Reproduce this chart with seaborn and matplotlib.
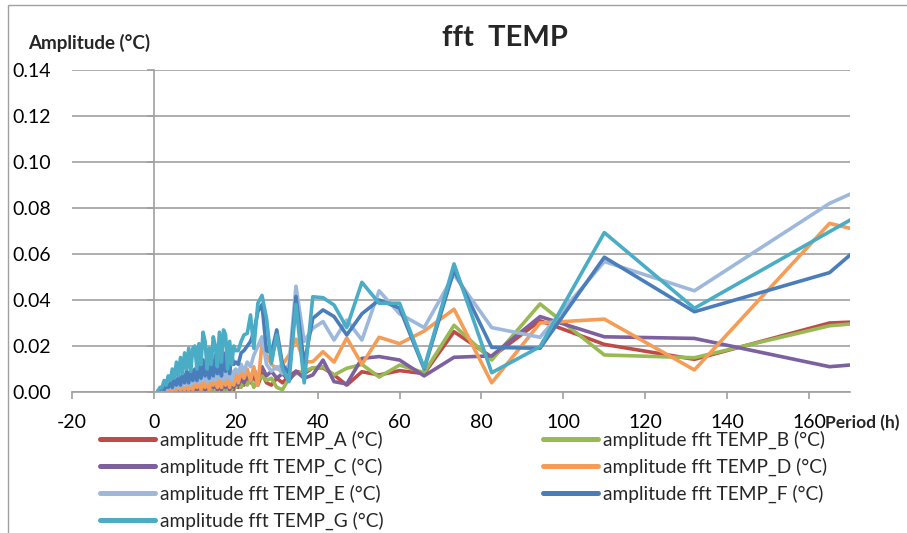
import pandas as pd
import matplotlib
matplotlib.use("Agg")
import matplotlib.pyplot as plt
import seaborn as sns
from matplotlib.patches import Rectangle

# periods (h); the first point lies past the right edge
PERIOD = [220, 165, 132, 110, 94.3, 82.5, 73.3, 66, 60, 55,
          50.8, 47.1, 44, 41.3, 38.8, 36.7, 34.7, 33, 31.4, 30,
          28.7, 27.5, 26.4, 25.4, 24.4, 23.6, 22.8, 22, 21.3, 20.6, 20,
          19.5, 19, 18.5, 18, 17.5, 17, 16.5, 16, 15.5, 15,
          14.5, 14, 13.5, 13, 12.5, 12, 11.5, 11, 10.5, 10,
          9.5, 9, 8.5, 8, 7.5, 7, 6.5, 6, 5.5, 5,
          4.5, 4, 3.5, 3, 2.5, 2, 1.5, 1]

TEMP_A = [0.034, 0.030, 0.0142, 0.0207, 0.031, 0.0152, 0.0262, 0.008, 0.0093, 0.0074,
          0.0088, 0.003, 0.0074, 0.0105, 0.0105, 0.008, 0.009, 0.007, 0.004, 0.006,
          0.003, 0.004, 0.008, 0.003, 0.007, 0.004, 0.006, 0.003, 0.005, 0.002, 0.004,
          0.001, 0.003, 0.001, 0.004, 0.001, 0.003, 0.0005, 0.002, 0.001, 0.003,
          0.0005, 0.002, 0.001, 0.002, 0.0005, 0.002, 0.0005, 0.001, 0.0005, 0.001,
          0.0005, 0.001, 0.0, 0.001, 0.0, 0.0005, 0.0, 0.0005, 0.0, 0.0005,
          0.0, 0.0, 0.0, 0.0, 0.0, 0.0, 0.0, 0.0]
TEMP_B = [0.037, 0.0288, 0.0149, 0.0161, 0.0383, 0.0139, 0.029, 0.0084, 0.0117, 0.0065,
          0.012, 0.0103, 0.0074, 0.011, 0.0105, 0.009, 0.008, 0.006, 0.001, 0.002,
          0.006, 0.005, 0.007, 0.005, 0.002, 0.006, 0.003, 0.005, 0.002, 0.004, 0.002,
          0.004, 0.001, 0.003, 0.0005, 0.002, 0.001, 0.003, 0.001, 0.002, 0.0005,
          0.002, 0.001, 0.002, 0.0005, 0.001, 0.001, 0.0005, 0.001, 0.0005, 0.001,
          0.0, 0.0005, 0.0, 0.0005, 0.0, 0.0005, 0.0, 0.0, 0.0, 0.0,
          0.0, 0.0, 0.0, 0.0, 0.0, 0.0, 0.0, 0.0]
TEMP_C = [0.019, 0.011, 0.0233, 0.024, 0.0328, 0.0157, 0.0151, 0.007, 0.0139, 0.0154,
          0.0146, 0.0035, 0.0045, 0.0139, 0.0074, 0.006, 0.009, 0.005, 0.008, 0.006,
          0.009, 0.007, 0.011, 0.006, 0.010, 0.005, 0.008, 0.004, 0.006, 0.003, 0.005,
          0.002, 0.005, 0.001, 0.004, 0.002, 0.006, 0.001, 0.003, 0.001, 0.005,
          0.002, 0.006, 0.001, 0.003, 0.001, 0.003, 0.001, 0.002, 0.001, 0.002,
          0.0005, 0.002, 0.0005, 0.001, 0.0005, 0.001, 0.0005, 0.001, 0.0, 0.0005,
          0.0, 0.0005, 0.0, 0.0005, 0.0, 0.0, 0.0, 0.0]
TEMP_D = [0.050, 0.0733, 0.0096, 0.0317, 0.030, 0.004, 0.036, 0.0265, 0.021, 0.0238,
          0.012, 0.0235, 0.013, 0.0175, 0.0132, 0.013, 0.023, 0.016, 0.012, 0.010,
          0.012, 0.016, 0.021, 0.003, 0.011, 0.005, 0.010, 0.006, 0.009, 0.004, 0.008,
          0.003, 0.008, 0.002, 0.007, 0.003, 0.009, 0.002, 0.006, 0.002, 0.008,
          0.003, 0.005, 0.001, 0.006, 0.002, 0.005, 0.001, 0.004, 0.002, 0.004,
          0.001, 0.003, 0.001, 0.003, 0.001, 0.002, 0.001, 0.002, 0.001, 0.001,
          0.0005, 0.001, 0.0005, 0.0005, 0.0, 0.0005, 0.0, 0.0]
TEMP_E = [0.126, 0.082, 0.044, 0.0567, 0.0238, 0.028, 0.051, 0.028, 0.034, 0.044,
          0.0226, 0.0313, 0.0226, 0.0306, 0.0277, 0.022, 0.046, 0.012, 0.008, 0.011,
          0.009, 0.012, 0.024, 0.020, 0.016, 0.011, 0.013, 0.009, 0.012, 0.008, 0.010,
          0.009, 0.005, 0.011, 0.006, 0.012, 0.005, 0.011, 0.006, 0.010, 0.005,
          0.011, 0.005, 0.010, 0.004, 0.009, 0.005, 0.009, 0.004, 0.008, 0.004,
          0.008, 0.003, 0.007, 0.003, 0.006, 0.003, 0.005, 0.002, 0.005, 0.002,
          0.004, 0.002, 0.003, 0.001, 0.002, 0.001, 0.001, 0.0]
TEMP_F = [0.136, 0.0519, 0.0349, 0.0586, 0.019, 0.0194, 0.053, 0.010, 0.0365, 0.040,
          0.034, 0.0248, 0.0328, 0.0357, 0.032, 0.012, 0.0415, 0.008, 0.012, 0.027,
          0.017, 0.018, 0.038, 0.035, 0.026, 0.022, 0.020, 0.018, 0.017, 0.012, 0.013,
          0.012, 0.016, 0.008, 0.015, 0.009, 0.017, 0.007, 0.014, 0.008, 0.016,
          0.007, 0.013, 0.006, 0.012, 0.007, 0.014, 0.006, 0.011, 0.005, 0.010,
          0.005, 0.010, 0.004, 0.009, 0.004, 0.008, 0.003, 0.007, 0.003, 0.006,
          0.002, 0.004, 0.002, 0.003, 0.001, 0.002, 0.001, 0.0005]
TEMP_G = [0.125, 0.0697, 0.0364, 0.0693, 0.0197, 0.0084, 0.0557, 0.0105, 0.0386, 0.0386,
          0.0477, 0.028, 0.0378, 0.041, 0.0414, 0.004, 0.038, 0.0045, 0.010, 0.0248,
          0.0125, 0.032, 0.042, 0.0386, 0.019, 0.0335, 0.0255, 0.0248, 0.022, 0.018, 0.018,
          0.020, 0.012, 0.022, 0.010, 0.025, 0.027, 0.013, 0.026, 0.011, 0.020,
          0.024, 0.012, 0.019, 0.010, 0.022, 0.026, 0.012, 0.021, 0.010, 0.020,
          0.019, 0.009, 0.019, 0.010, 0.017, 0.008, 0.015, 0.007, 0.013, 0.006,
          0.010, 0.005, 0.007, 0.003, 0.005, 0.002, 0.002, 0.0005]

NAMES = ["A", "B", "C", "D", "E", "F", "G"]
VALUES = [TEMP_A, TEMP_B, TEMP_C, TEMP_D, TEMP_E, TEMP_F, TEMP_G]
COLORS = ["#BE4B48", "#98B954", "#7D60A0", "#F59D56", "#9DB8DB", "#4A7EBB", "#4BACC6"]
YTICKS = [0.00, 0.02, 0.04, 0.06, 0.08, 0.10, 0.12, 0.14]
XTICKS = [-20, 0, 20, 40, 60, 80, 100, 120, 140, 160]

labels = [f"amplitude fft TEMP_{n} (°C)" for n in NAMES]
frames = []
for lab, vals in zip(labels, VALUES):
    frames.append(pd.DataFrame({"period": PERIOD, "amp": vals, "series": lab}))
df = pd.concat(frames, ignore_index=True)

sns.set_theme(style="white")
plt.rcParams["font.family"] = ["Lato", "DejaVu Sans"]
GRAY = "#a0a0a0"

fig = plt.figure(figsize=(9.07, 5.33), dpi=100)
W, H = 907, 533
ax = fig.add_axes([72 / W, 1 - 392 / H, (850 - 72) / W, (392 - 70) / H])

sns.lineplot(data=df, x="period", y="amp", hue="series", hue_order=labels,
             palette=dict(zip(labels, COLORS)), estimator=None, sort=False,
             legend=False, ax=ax)
for ln in ax.lines:
    ln.set_linewidth(2.6)
    ln.set_solid_joinstyle("round")

ax.set_xlim(-20, 170)
ax.set_ylim(0, 0.14)
ax.set_xticks(XTICKS)
ax.set_xticklabels([str(t) for t in XTICKS])
ax.set_yticks(YTICKS)
ax.set_yticklabels([f"{t:.2f}" for t in YTICKS])
ax.set_xlabel("")
ax.set_ylabel("")
ax.yaxis.grid(True, color=GRAY, lw=1.2)
ax.xaxis.grid(False)
ax.set_axisbelow(True)
for s in ["left", "top", "right"]:
    ax.spines[s].set_visible(False)
ax.spines["bottom"].set_color(GRAY)
ax.spines["bottom"].set_linewidth(1.2)
ax.tick_params(axis="x", bottom=True, length=5, width=1.2, color=GRAY,
               pad=11, labelsize=14, labelcolor="black")
ax.tick_params(axis="y", left=False, length=0, pad=15, labelsize=14, labelcolor="black")

# vertical axis line crossing at x = 0
sec = ax.secondary_yaxis(20 / 190)
sec.set_yticks(YTICKS)
sec.tick_params(axis="y", left=True, length=5, width=1.2, color=GRAY, labelleft=False)
sec.spines["left"].set_color(GRAY)
sec.spines["left"].set_linewidth(1.2)

lines = ax.lines
order1 = [0, 2, 4, 6]
order2 = [1, 3, 5]
for order, x0 in [(order1, 100), (order2, 543)]:
    leg = fig.legend([lines[i] for i in order], [labels[i] for i in order],
                     loc="upper left", bbox_to_anchor=(x0 / W, 1 - 431 / H),
                     bbox_transform=fig.transFigure, frameon=False, fontsize=13.8,
                     handlelength=2.85, handletextpad=0.28, labelspacing=0.45,
                     borderpad=0, borderaxespad=0)
    for h in leg.legend_handles:
        h.set_linewidth(3.6)

fig.text(505 / W, 1 - 38 / H, "fft  TEMP", ha="center", va="center",
         fontsize=21, fontweight="bold")
fig.text(28 / W, 1 - 43 / H, "Amplitude (°C)", ha="left", va="center",
         fontsize=13.5, fontweight="bold")
fig.text(825 / W, 1 - 423 / H, "Period (h)", ha="left", va="center",
         fontsize=12.5, fontweight="bold")

fig.add_artist(Rectangle((8 / W, -0.1), 1.2, 1 - 5 / H + 0.1, transform=fig.transFigure,
                         fill=False, edgecolor=GRAY, lw=1.0))

fig.savefig("out.png", dpi=100)
